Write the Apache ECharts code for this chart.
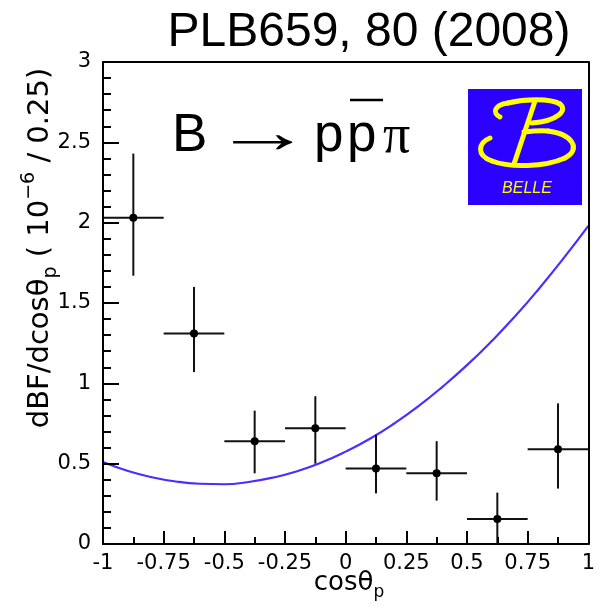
<!DOCTYPE html>
<html>
<head>
<meta charset="utf-8">
<script src="https://cdn.jsdelivr.net/npm/echarts@6/dist/echarts.min.js"></script>
<style>html,body{margin:0;padding:0;background:#fff}#c{width:598px;height:613px}</style>
</head>
<body>
<div id="c"></div>
<script>
// Data
const binCenters = [-0.875, -0.625, -0.375, -0.125, 0.125, 0.375, 0.625, 0.875];
const binHalfWidth = [0.125, 0.125, 0.125, 0.125, 0.125, 0.125, 0.125, 0.125];
const values = [2.03, 1.31, 0.64, 0.72, 0.47, 0.44, 0.155, 0.59];
const errLow = [1.67, 1.07, 0.44, 0.50, 0.315, 0.27, 0.0, 0.345];
const errHigh = [2.43, 1.60, 0.83, 0.92, 0.68, 0.64, 0.32, 0.875];
const curveX = [-1, -0.9, -0.8, -0.7, -0.6, -0.5, -0.4, -0.3, -0.2, -0.1, 0, 0.1, 0.2, 0.3, 0.4, 0.5, 0.6, 0.7, 0.8, 0.9, 1];
const curveY = [0.51, 0.456, 0.416, 0.389, 0.375, 0.372, 0.386, 0.413, 0.453, 0.507, 0.575, 0.655, 0.75, 0.858, 0.98, 1.113, 1.26, 1.42, 1.595, 1.782, 1.98];
const xTicks = [-1, -0.75, -0.5, -0.25, 0, 0.25, 0.5, 0.75, 1];
const yTicks = [0, 0.5, 1, 1.5, 2, 2.5, 3];

const FONT = 'Liberation Sans, Arial, Helvetica, sans-serif';
const PFONT = 'DejaVu Sans, sans-serif';
const YEL = '#ffff00';
const chart = echarts.init(document.getElementById('c'));

const pointData = binCenters.map((x, i) => [x, values[i], x - binHalfWidth[i], x + binHalfWidth[i], errLow[i], errHigh[i]]);
const curveData = curveX.map((x, i) => [x, curveY[i]]);

function bz(p) {
  return { type: 'bezierCurve', z: 11,
    shape: { x1: p[0], y1: p[1], cpx1: p[2], cpy1: p[3], cpx2: p[4], cpy2: p[5], x2: p[6], y2: p[7] },
    style: { stroke: YEL, lineWidth: 5, fill: null, lineCap: 'round' } };
}
const frameLine = () => ({ show: true, onZero: false, lineStyle: { color: '#000', width: 2 } });
const xMin = xTicks[0], xMax = xTicks[xTicks.length - 1];
const yMin = yTicks[0], yMax = yTicks[yTicks.length - 1];

chart.setOption({
  animation: false,
  backgroundColor: '#fff',
  grid: { left: 103, right: 6, top: 62, bottom: 69, containLabel: false },
  xAxis: [{
    type: 'value', min: xMin, max: xMax, interval: 0.25, position: 'bottom', z: 20,
    axisLine: frameLine(),
    axisTick: { show: true, inside: true, length: 13, lineStyle: { color: '#000', width: 2 } },
    minorTick: { show: true, splitNumber: 2, length: 7, lineStyle: { color: '#000', width: 2 } },
    splitLine: { show: false },
    axisLabel: { color: '#000', fontSize: 21, fontFamily: PFONT, margin: 9,
      formatter: v => String(xTicks.find(t => Math.abs(t - v) < 1e-9) ?? v) }
  }, {
    type: 'value', min: xMin, max: xMax, position: 'top', z: 20,
    axisLine: frameLine(), axisTick: { show: false }, axisLabel: { show: false }, splitLine: { show: false }
  }],
  yAxis: [{
    type: 'value', min: yMin, max: yMax, interval: 0.5, position: 'left', z: 20,
    axisLine: frameLine(),
    axisTick: { show: true, inside: true, length: 16, lineStyle: { color: '#000', width: 2 } },
    minorTick: { show: true, splitNumber: 5, length: 8, lineStyle: { color: '#000', width: 2 } },
    splitLine: { show: false },
    axisLabel: { color: '#000', fontSize: 21, fontFamily: PFONT, margin: 12 }
  }, {
    type: 'value', min: yMin, max: yMax, position: 'right', z: 20,
    axisLine: frameLine(), axisTick: { show: false }, axisLabel: { show: false }, splitLine: { show: false }
  }],
  graphic: [
    { type: 'text', z: 10,
      style: { text: 'PLB659, 80 (2008)', x: 369, y: 33, align: 'center', verticalAlign: 'middle', fontSize: 48, fontFamily: FONT, fill: '#000' } },
    { type: 'text', z: 10, style: { text: 'B', x: 172, y: 136, align: 'left', verticalAlign: 'middle', fontSize: 53, fontFamily: FONT, fill: '#000' } },
    { type: 'text', z: 10, x: 213, y: 135, scaleX: 2.0, scaleY: 1.2,
      style: { text: '→', x: 0, y: 0, align: 'left', verticalAlign: 'middle', fontSize: 50, fontFamily: FONT, fill: '#000' } },
    { type: 'text', z: 10, style: { text: 'p', x: 314, y: 136, align: 'left', verticalAlign: 'middle', fontSize: 53, fontFamily: FONT, fill: '#000' } },
    { type: 'text', z: 10, style: { text: 'p', x: 347, y: 136, align: 'left', verticalAlign: 'middle', fontSize: 53, fontFamily: FONT, fill: '#000' } },
    { type: 'line', z: 10, shape: { x1: 350, y1: 100, x2: 383, y2: 100 }, style: { stroke: '#000', lineWidth: 2.5 } },
    { type: 'text', z: 10, style: { text: 'π', x: 383, y: 138, align: 'left', verticalAlign: 'middle', fontSize: 54, fontFamily: 'Liberation Serif, Times New Roman, serif', fill: '#000' } },
    // Belle logo
    { type: 'rect', z: 10, shape: { x: 468, y: 89, width: 114, height: 116 }, style: { fill: '#2b00ff' } },
    bz([500, 117, 492, 113, 494, 105, 508, 103]),
    bz([508, 103, 525, 99, 550, 98, 560, 104]),
    bz([560, 104, 568, 110, 558, 121, 532, 123]),
    { type: 'line', z: 11, shape: { x1: 535, y1: 101, x2: 514, y2: 164 }, style: { stroke: YEL, lineWidth: 5, lineCap: 'round' } },
    bz([490, 138, 478, 143, 476, 155, 492, 161]),
    bz([492, 161, 510, 168, 545, 167, 565, 158]),
    bz([565, 158, 582, 149, 572, 134, 548, 131]),
    bz([548, 131, 540, 130, 532, 131, 524, 132]),
    { type: 'text', z: 11, style: { text: 'BELLE', x: 527, y: 189, align: 'center', verticalAlign: 'middle', fontSize: 16, fontStyle: 'italic', fontFamily: FONT, fill: YEL } },
    // axis titles
    { type: 'text', z: 10, x: 40, y: 248, rotation: Math.PI / 2,
      style: { text: '{m|dBF/dcosθ}{sub|p}{m| ( 10}{sup|−6}{m| / 0.25)}', x: 0, y: 0, align: 'center', verticalAlign: 'middle',
        rich: { m: { fontSize: 29, fontFamily: PFONT, color: '#000', lineHeight: 41 },
                sub: { fontSize: 19, fontFamily: PFONT, color: '#000', verticalAlign: 'bottom', lineHeight: 19 },
                sup: { fontSize: 19, fontFamily: PFONT, color: '#000', verticalAlign: 'top', lineHeight: 19 } } } },
    { type: 'text', z: 10,
      style: { text: '{m|cosθ}{sub|p}', x: 349, y: 583, align: 'center', verticalAlign: 'middle',
        rich: { m: { fontSize: 26, fontFamily: PFONT, color: '#000', lineHeight: 36 },
                sub: { fontSize: 17, fontFamily: PFONT, color: '#000', verticalAlign: 'bottom', lineHeight: 17 } } } }
  ],
  series: [
    { type: 'line', data: curveData, smooth: true, showSymbol: false, symbol: 'none',
      lineStyle: { color: '#4b2dff', width: 2.2 }, z: 3 },
    { type: 'custom', data: pointData, z: 5,
      renderItem: (params, api) => {
        const c = api.coord([api.value(0), api.value(1)]);
        const l = api.coord([api.value(2), api.value(1)]);
        const r = api.coord([api.value(3), api.value(1)]);
        const lo = api.coord([api.value(0), api.value(4)]);
        const hi = api.coord([api.value(0), api.value(5)]);
        const st = { stroke: '#111', lineWidth: 2 };
        return { type: 'group', children: [
          { type: 'line', shape: { x1: l[0], y1: l[1], x2: r[0], y2: r[1] }, style: st },
          { type: 'line', shape: { x1: lo[0], y1: lo[1], x2: hi[0], y2: hi[1] }, style: st },
          { type: 'circle', shape: { cx: c[0], cy: c[1], r: 4 }, style: { fill: '#000' } }
        ] };
      },
      encode: { x: 0, y: 1 } }
  ]
});
</script>
</body>
</html>
